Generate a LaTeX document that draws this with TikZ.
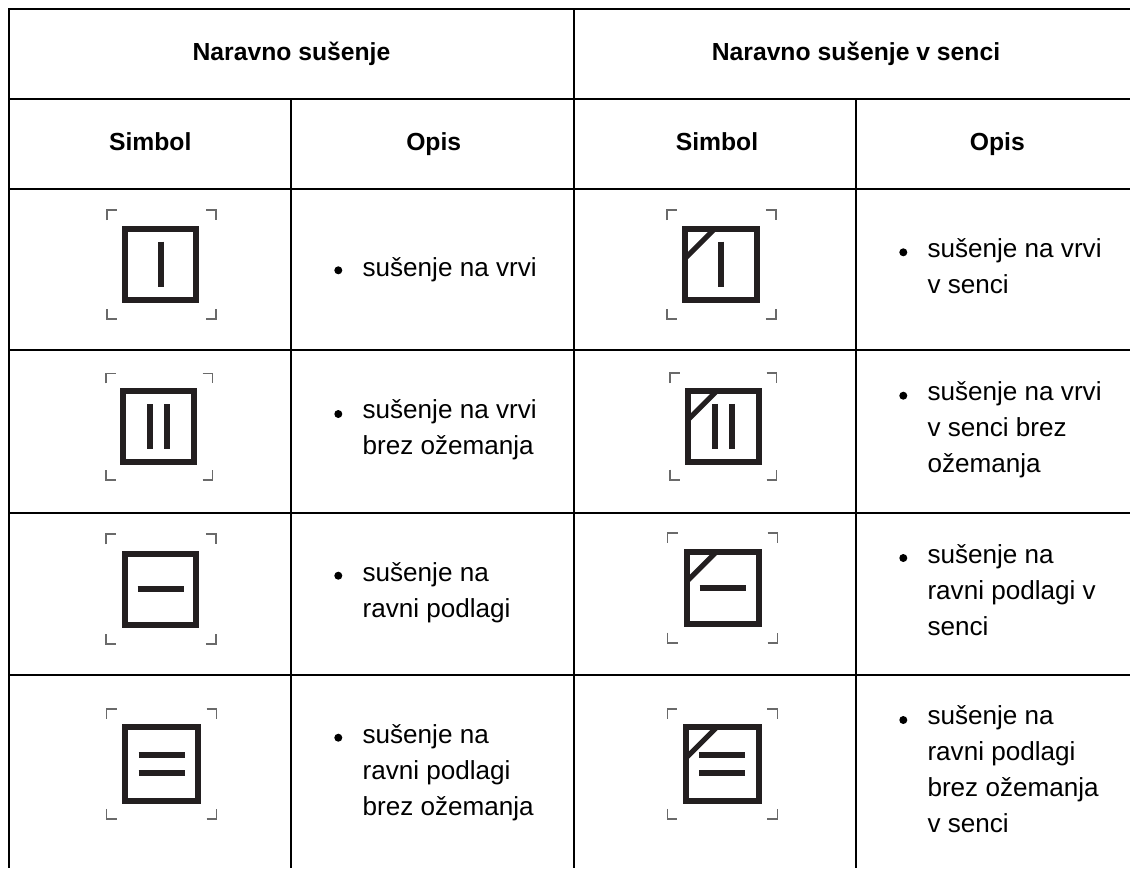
\documentclass[tikz,border=0pt]{standalone}
\usepackage{fontspec}
\setmainfont{Liberation Sans}
\definecolor{ink}{HTML}{231F20}
\definecolor{crop}{HTML}{6A6A6A}
\tikzset{
  x=1pt,y=-1pt,
  rule/.style={draw=black,line width=1.9pt},
  head/.style={anchor=base,font=\fontsize{24.7}{30}\selectfont\bfseries,inner sep=0pt},
  body/.style={anchor=north west,align=left,font=\fontsize{26.1}{36}\selectfont,inner sep=0pt,
               execute at begin node=\rule{0pt}{20pt}},
  dot/.style={circle,fill=black,inner sep=0pt,minimum size=8pt},
  sq/.style={draw=ink,line width=6pt,line join=miter},
  mk/.style={draw=ink,line width=6pt},
  sl/.style={draw=ink,line width=5pt},
  cr/.style={draw=crop,line width=1.7pt}
}
% #1,#2 square centre; #3 square half side; #4 crop-mark x offset; #5 crop half size; #6 marks
\newcommand{\symb}[6]{%
  \begin{scope}[shift={(#1,#2)}]
    \draw[sq] (-#3,-#3) rectangle (#3,#3);
    \begin{scope}[shift={(#4,0)}]
      \draw[cr] (-#5,-#5+10) |- (-#5+10,-#5);
      \draw[cr] (#5-10,-#5) -| (#5,-#5+10);
      \draw[cr] (-#5,#5-10) |- (-#5+10,#5);
      \draw[cr] (#5-10,#5) -| (#5,#5-10);
    \end{scope}
    #6
  \end{scope}}
\newcommand{\slashmk}{\draw[sl] (-36,-6) -- (-6,-36);}
\newcommand{\vone}{\draw[mk] (0,-22.8) -- (0,22.8);}
\newcommand{\vtwo}{\draw[mk] (-8.4,-22.5) -- (-8.4,22.5); \draw[mk] (8.4,-22.5) -- (8.4,22.5);}
\newcommand{\hone}{\draw[mk] (-23,0) -- (23,0);}
\newcommand{\htwo}{\draw[mk] (-23,-8.7) -- (23,-8.7); \draw[mk] (-23,8.7) -- (23,8.7);}
\begin{document}
\begin{tikzpicture}
\useasboundingbox (0,0) rectangle (1130,868);
\fill[white] (0,0) rectangle (1130,868);
\draw[rule] (8,9) -- (1130,9);
\draw[rule] (8,99) -- (1130,99);
\draw[rule] (8,189) -- (1130,189);
\draw[rule] (8,350) -- (1130,350);
\draw[rule] (8,513) -- (1130,513);
\draw[rule] (8,675) -- (1130,675);
\draw[rule] (9,8) -- (9,868);
\draw[rule] (574,9) -- (574,868);
\draw[rule] (291,99) -- (291,868);
\draw[rule] (856,99) -- (856,868);

\node[head] (h1) at (291.5,60.5) {Naravno sušenje};
\node[head] (h2) at (856,60.5) {Naravno sušenje v senci};
\node[head] (s1) at (150.2,150) {Simbol};
\node[head] (o1) at (433.7,150) {Opis};
\node[head] (s2) at (717,150) {Simbol};
\node[head] (o2) at (997.3,150) {Opis};

\symb{160.5}{264.5}{35.8}{1}{54.5}{\vone}
\symb{158.3}{426.7}{35.5}{1}{53.3}{\vtwo}
\symb{160.5}{589.3}{35.8}{0.3}{55}{\hone}
\symb{161.5}{763.8}{36.7}{0}{55}{\htwo}
\symb{721}{264.5}{35.8}{0.3}{54.5}{\slashmk\vone}
\symb{723.3}{426.4}{35.3}{0}{53.3}{\slashmk\vtwo}
\symb{722.5}{587.7}{36}{0}{55}{\slashmk\hone}
\symb{722.2}{763.8}{36.7}{0.2}{55}{\slashmk\htwo}

\node[dot] (d1) at (338.3,270.3) {}; \node[body] (t1) at (362.4,256) {sušenje na vrvi};
\node[dot] (d2) at (338.3,414) {}; \node[body] (t2) at (362.4,399.5) {sušenje na vrvi\\brez ožemanja};
\node[dot] (d3) at (338.3,575.7) {}; \node[body] (t3) at (362.4,562.7) {sušenje na\\ravni podlagi};
\node[dot] (d4) at (338.3,737.7) {}; \node[body] (t4) at (362.4,724) {sušenje na\\ravni podlagi\\brez ožemanja};
\node[dot] (d5) at (903.3,252.3) {}; \node[body] (t5) at (927.3,238.3) {sušenje na vrvi\\v senci};
\node[dot] (d6) at (903.3,395.7) {}; \node[body] (t6) at (927.3,381.7) {sušenje na vrvi\\v senci brez\\ožemanja};
\node[dot] (d7) at (903.3,558) {}; \node[body] (t7) at (927.3,544) {sušenje na\\ravni podlagi v\\senci};
\node[dot] (d8) at (903.3,720) {}; \node[body] (t8) at (927.3,705.7) {sušenje na\\ravni podlagi\\brez ožemanja\\v senci};
\end{tikzpicture}
\end{document}
